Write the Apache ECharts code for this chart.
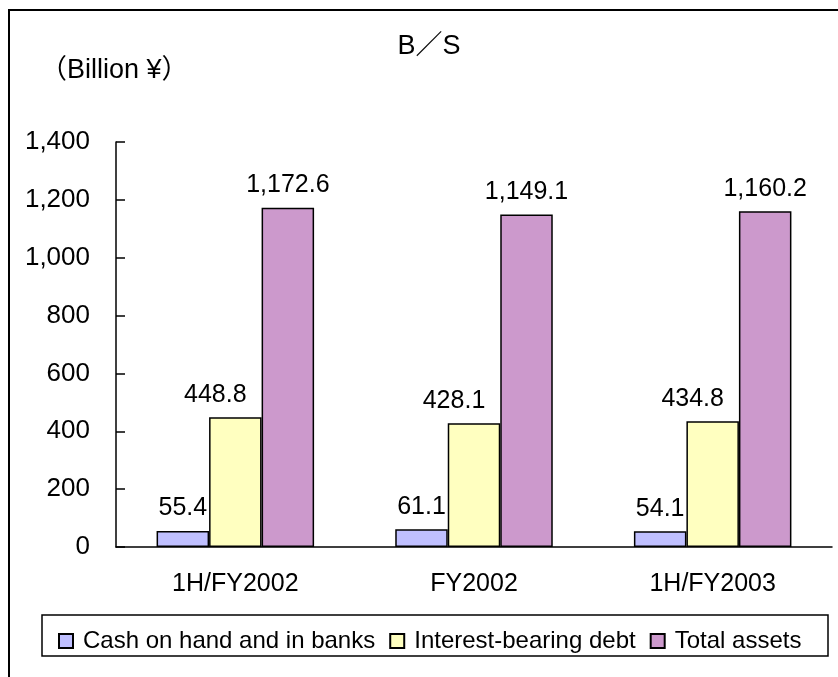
<!DOCTYPE html>
<html>
<head>
<meta charset="utf-8">
<script src="https://cdn.jsdelivr.net/npm/echarts@6/dist/echarts.min.js"></script>
<style>
  html, body { margin: 0; padding: 0; background: #fff; }
  #chart { width: 838px; height: 677px; }
</style>
</head>
<body>
<div id="chart"></div>
<script>
// data
var periods = ['1H/FY2002', 'FY2002', '1H/FY2003'];
var cash = [55.4, 61.1, 54.1];
var debt = [448.8, 428.1, 434.8];
var assets = [1172.6, 1149.1, 1160.2];
var seriesNames = ['Cash on hand and in banks', 'Interest-bearing debt', 'Total assets'];
var titleText = 'B／S';
var unitText = '（Billion ¥）';

var font = '"Liberation Sans", "Noto Sans CJK JP", sans-serif';

function fmt(v) {
  return v.toLocaleString('en-US', { minimumFractionDigits: 1, maximumFractionDigits: 1 });
}

function barSeries(name, data, color, offsetX) {
  return {
    name: name,
    type: 'bar',
    data: data,
    barWidth: '22%',
    barGap: 0,
    itemStyle: { color: color, borderColor: '#000', borderWidth: 1.5 },
    label: {
      show: true,
      position: 'top',
      distance: 10,
      offset: [offsetX, 0],
      fontSize: 25,
      fontFamily: font,
      color: '#000',
      formatter: function (p) { return fmt(p.value) }
    }
  }
}

var chart = echarts.init(document.getElementById('chart'));
chart.setOption({
  animation: false,
  textStyle: { fontFamily: font },
  grid: { left: 116, right: 6, top: 142, bottom: 130, containLabel: false },
  graphic: [
    { type: 'rect', shape: { x: 9, y: 10, width: 900, height: 900 },
      style: { fill: 'none', stroke: '#000', lineWidth: 2 } },
    { type: 'rect', shape: { x: 42, y: 615, width: 786, height: 41 },
      style: { fill: '#fff', stroke: '#000', lineWidth: 1.5 } },
    { type: 'text', x: 429, y: 47,
      style: { text: titleText, fontSize: 27, fontFamily: font, fill: '#000',
               textAlign: 'center', textVerticalAlign: 'middle' } },
    { type: 'text', x: 40, y: 71,
      style: { text: unitText, fontSize: 27, fontFamily: font, fill: '#000',
               textAlign: 'left', textVerticalAlign: 'middle' } }
  ],
  legend: {
    data: seriesNames,
    left: 53,
    top: 624,
    itemWidth: 14,
    itemHeight: 14,
    itemGap: 14,
    icon: 'rect',
    textStyle: { fontSize: 24, fontFamily: font, color: '#000', lineHeight: 24, padding: [0, 0, 0, 5] }
  },
  xAxis: {
    type: 'category',
    data: periods,
    axisLine: { lineStyle: { color: '#000', width: 1.5 } },
    axisTick: { inside: true, length: 8, lineStyle: { color: '#000', width: 1.5 } },
    axisLabel: { fontSize: 25, color: '#000', margin: 25, fontFamily: font }
  },
  yAxis: {
    type: 'value',
    min: 0,
    max: 1400,
    interval: 200,
    splitLine: { show: false },
    axisLine: { show: true, lineStyle: { color: '#000', width: 1.5 } },
    axisTick: { show: true, inside: true, length: 9, lineStyle: { color: '#000', width: 1.5 } },
    axisLabel: {
      fontSize: 26, color: '#000', margin: 26, fontFamily: font,
      formatter: function (v) { return v.toLocaleString('en-US') }
    }
  },
  series: [
    barSeries(seriesNames[0], cash, '#BFBFFF', 0),
    barSeries(seriesNames[1], debt, '#FFFFC0', -20),
    barSeries(seriesNames[2], assets, '#CC99CC', 0)
  ]
});
</script>
</body>
</html>
